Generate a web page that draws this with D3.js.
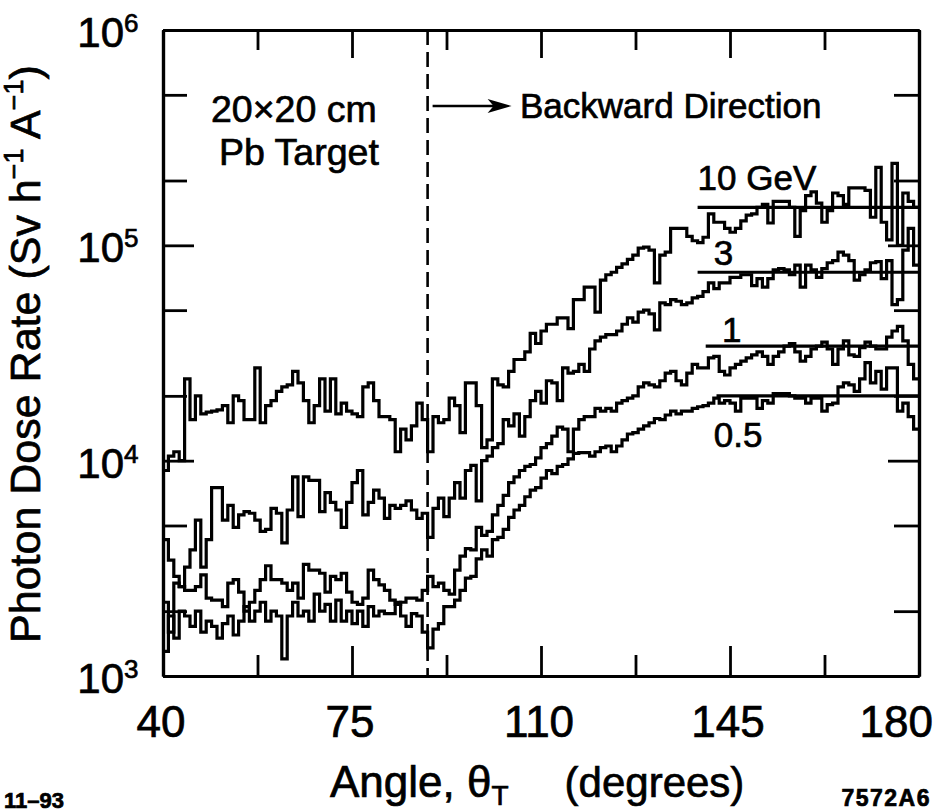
<!DOCTYPE html>
<html>
<head>
<meta charset="utf-8">
<script src="https://cdn.jsdelivr.net/npm/d3@7/dist/d3.min.js"></script>
<style>
  body { margin: 0; background: #fff; }
  svg text { font-family: "Liberation Sans", Arial, Helvetica, sans-serif; fill: #000; stroke: #000; stroke-width: 0.7px; }
</style>
</head>
<body>
<div id="chart"></div>
<script>
// bin start angles in degrees (1 degree bins, 40 -> 180)
const angles = d3.range(40, 180);

// photon dose rate per bin, Sv h^-1 A^-1
const dose10GeV = [
  9.0e3, 1.05e4, 1.1e4, 1.0e4, 2.4e4, 1.55e4, 2.0e4, 1.65e4, 1.68e4, 1.7e4,
  1.72e4, 1.8e4, 1.5e4, 2.0e4, 1.9e4, 1.55e4, 1.55e4, 2.7e4, 1.5e4, 1.8e4,
  1.9e4, 2.1e4, 2.2e4, 2.25e4, 2.6e4, 2.3e4, 1.9e4, 1.5e4, 1.8e4, 2.4e4,
  1.7e4, 2.4e4, 1.65e4, 1.85e4, 1.7e4, 1.65e4, 1.6e4, 2.2e4, 2.3e4, 1.9e4,
  1.6e4, 1.6e4, 1.55e4, 1.1e4, 1.4e4, 1.25e4, 1.45e4, 1.85e4, 1.55e4, 1.1e4,
  1.6e4, 1.5e4, 1.55e4, 1.95e4, 1.8e4, 1.35e4, 2.3e4, 2.3e4, 1.8e4, 1.15e4,
  1.25e4, 2.4e4, 2.25e4, 2.2e4, 2.6e4, 2.95e4, 2.95e4, 3.2e4, 3.9e4, 3.5e4,
  4.0e4, 4.3e4, 4.3e4, 4.6e4, 4.6e4, 4.1e4, 5.6e4, 5.6e4, 6.4e4, 6.4e4,
  4.9e4, 6.9e4, 7.3e4, 7.5e4, 7.9e4, 8.2e4, 8.6e4, 9.0e4, 9.7e4, 9.8e4,
  9.5e4, 6.7e4, 9.0e4, 9.3e4, 1.2e5, 1.2e5, 1.2e5, 1.1e5, 1.05e5, 1.03e5,
  1.09e5, 1.4e5, 1.28e5, 1.28e5, 1.2e5, 1.15e5, 1.2e5, 1.3e5, 1.38e5, 1.4e5,
  1.5e5, 1.55e5, 1.27e5, 1.6e5, 1.6e5, 1.6e5, 1.5e5, 1.1e5, 1.45e5, 1.7e5,
  1.77e5, 1.57e5, 1.28e5, 1.45e5, 1.75e5, 1.7e5, 1.55e5, 1.85e5, 1.85e5, 1.85e5,
  1.8e5, 1.35e5, 2.3e5, 1.28e5, 1.06e5, 2.4e5, 1.0e5, 1.75e5, 1.6e5, 1.5e5
];

const dose3GeV = [
  4.3e3, 3.45e3, 2.9e3, 2.6e3, 3.2e3, 3.85e3, 5.3e3, 3.2e3, 4.3e3, 7.5e3,
  7.5e3, 5.3e3, 6.2e3, 4.9e3, 5.6e3, 5.8e3, 5.7e3, 5.3e3, 4.7e3, 4.8e3,
  6.0e3, 5.7e3, 4.15e3, 5.9e3, 8.4e3, 5.5e3, 8.4e3, 8.1e3, 8.1e3, 5.8e3,
  7.1e3, 6.4e3, 5.9e3, 4.9e3, 6.4e3, 7.9e3, 9.0e3, 5.6e3, 6.4e3, 7.3e3,
  6.7e3, 5.4e3, 6.2e3, 6.0e3, 6.2e3, 6.5e3, 5.9e3, 5.4e3, 5.7e3, 4.4e3,
  6.0e3, 6.7e3, 5.5e3, 6.7e3, 7.9e3, 6.7e3, 9.0e3, 9.5e3, 6.5e3, 1.0e4,
  1.05e4, 1.15e4, 1.2e4, 1.55e4, 1.45e4, 1.65e4, 1.3e4, 1.6e4, 1.9e4, 2.1e4,
  1.85e4, 2.35e4, 2.3e4, 1.9e4, 2.7e4, 2.55e4, 2.6e4, 2.8e4, 2.6e4, 3.3e4,
  3.6e4, 3.75e4, 3.85e4, 3.85e4, 4.0e4, 4.3e4, 4.6e4, 4.4e4, 4.9e4, 5.0e4,
  4.8e4, 4.05e4, 5.4e4, 5.3e4, 5.6e4, 5.5e4, 5.3e4, 5.4e4, 5.7e4, 5.8e4,
  6.1e4, 6.7e4, 6.3e4, 6.7e4, 6.7e4, 7.1e4, 7.1e4, 7.3e4, 7.3e4, 6.5e4,
  7.0e4, 6.4e4, 7.0e4, 7.7e4, 7.8e4, 7.7e4, 7.3e4, 8.1e4, 6.4e4, 8.1e4,
  7.7e4, 7.1e4, 7.8e4, 8.3e4, 8.5e4, 9.3e4, 9.0e4, 8.5e4, 6.9e4, 7.3e4,
  7.7e4, 8.3e4, 8.4e4, 7.0e4, 8.5e4, 5.3e4, 5.6e4, 9.5e4, 1.2e5, 8.1e4
];

const dose1GeV = [
  2.2e3, 1.6e3, 2.7e3, 2.6e3, 2.5e3, 2.5e3, 2.6e3, 2.95e3, 2.3e3, 2.25e3,
  2.25e3, 2.1e3, 2.7e3, 2.8e3, 2.45e3, 2.0e3, 2.2e3, 2.5e3, 2.8e3, 3.25e3,
  2.8e3, 2.8e3, 2.7e3, 2.5e3, 2.7e3, 2.3e3, 3.3e3, 3.1e3, 3.1e3, 3.0e3,
  2.45e3, 2.9e3, 2.8e3, 3.0e3, 2.45e3, 2.2e3, 2.15e3, 2.3e3, 3.1e3, 2.8e3,
  2.65e3, 2.5e3, 2.25e3, 2.15e3, 2.2e3, 2.3e3, 2.3e3, 2.25e3, 2.5e3, 2.9e3,
  2.6e3, 2.7e3, 2.5e3, 2.4e3, 3.1e3, 3.6e3, 3.9e3, 3.85e3, 4.9e3, 4.5e3,
  4.7e3, 5.6e3, 6.2e3, 6.9e3, 7.9e3, 8.4e3, 9.0e3, 9.4e3, 9.6e3, 1.03e4,
  1.15e4, 1.2e4, 1.3e4, 1.43e4, 1.4e4, 1.1e4, 1.4e4, 1.55e4, 1.6e4, 1.6e4,
  1.75e4, 1.7e4, 1.75e4, 1.7e4, 1.85e4, 1.9e4, 1.95e4, 2.0e4, 2.2e4, 2.3e4,
  2.25e4, 2.2e4, 2.35e4, 2.55e4, 2.6e4, 2.35e4, 2.25e4, 2.55e4, 2.8e4, 2.7e4,
  2.7e4, 3.0e4, 3.05e4, 2.6e4, 2.5e4, 2.7e4, 2.8e4, 2.9e4, 3.0e4, 3.1e4,
  3.2e4, 3.05e4, 2.8e4, 3.05e4, 3.2e4, 3.4e4, 3.5e4, 3.2e4, 2.9e4, 3.05e4,
  3.3e4, 3.4e4, 3.55e4, 3.3e4, 2.8e4, 3.3e4, 3.6e4, 3.1e4, 3.05e4, 3.35e4,
  3.55e4, 3.4e4, 3.3e4, 3.3e4, 3.75e4, 4.0e4, 4.2e4, 3.6e4, 2.8e4, 2.4e4
];

const dose05GeV = [
  1.3e3, 1.9e3, 1.5e3, 2.0e3, 1.9e3, 1.7e3, 2.0e3, 1.6e3, 1.8e3, 1.7e3,
  1.5e3, 1.75e3, 1.9e3, 1.55e3, 1.8e3, 2.1e3, 1.8e3, 2.0e3, 2.2e3, 1.8e3,
  2.0e3, 1.9e3, 1.2e3, 1.9e3, 2.2e3, 1.9e3, 2.0e3, 1.8e3, 2.4e3, 2.0e3,
  2.15e3, 1.8e3, 2.25e3, 1.8e3, 2.0e3, 1.75e3, 2.0e3, 1.7e3, 2.1e3, 1.9e3,
  2.0e3, 1.95e3, 1.95e3, 2.2e3, 1.9e3, 1.7e3, 1.95e3, 1.9e3, 1.6e3, 1.35e3,
  1.65e3, 1.75e3, 2.1e3, 2.1e3, 2.25e3, 2.5e3, 2.85e3, 2.9e3, 3.5e3, 3.85e3,
  3.6e3, 4.3e3, 4.4e3, 4.8e3, 5.45e3, 5.9e3, 6.2e3, 6.8e3, 7.3e3, 7.5e3,
  8.3e3, 9.0e3, 8.7e3, 9.4e3, 9.6e3, 1.02e4, 1.08e4, 1.09e4, 1.09e4, 1.05e4,
  1.1e4, 1.15e4, 1.17e4, 1.1e4, 1.17e4, 1.25e4, 1.33e4, 1.35e4, 1.4e4, 1.45e4,
  1.5e4, 1.57e4, 1.55e4, 1.63e4, 1.7e4, 1.65e4, 1.7e4, 1.7e4, 1.75e4, 1.78e4,
  1.8e4, 1.85e4, 1.95e4, 1.85e4, 1.9e4, 1.85e4, 1.7e4, 1.95e4, 1.95e4, 1.95e4,
  1.75e4, 1.9e4, 1.85e4, 2.05e4, 2.05e4, 2.05e4, 2.0e4, 1.95e4, 1.95e4, 1.85e4,
  1.95e4, 1.95e4, 1.7e4, 1.82e4, 1.85e4, 2.2e4, 2.3e4, 2.25e4, 2.1e4, 2.4e4,
  2.85e4, 2.3e4, 2.6e4, 2.15e4, 2.7e4, 2.7e4, 1.7e4, 1.85e4, 1.6e4, 1.4e4
];

// flat reference levels drawn over the backward plateau
const seriesNames = ["10 GeV", "3", "1", "0.5"];
const plateauLevel = [1.5e5, 7.5e4, 3.4e4, 2.0e4];
const plateauFrom = [139, 139, 140.5, 142.5];

// axes
const xTicks = [40, 75, 110, 145, 180];
const xMinorTicks = [57.5, 92.5, 127.5, 162.5];
const yTicks = [1e3, 1e4, 1e5, 1e6];
const yTickExp = ["3", "4", "5", "6"];
const yMinorTicks = [2e3, 5e3, 2e4, 5e4, 2e5, 5e5];
const dashAngle = 89;

const width = 945, height = 812;
const svg = d3.select("#chart")
  .append("svg")
  .attr("width", width)
  .attr("height", height);

const x = d3.scaleLinear().domain([40, 180]).range([163, 919]);
const y = d3.scaleLog().domain([1e3, 1e6]).range([676, 30]);

// ticks on all four sides, pointing inwards
function drawAxes() {
  const g = svg.append("g");
  const sides = [
    { axis: d3.axisBottom, scale: x, major: xTicks, minor: xMinorTicks, t: `translate(0,${y(1e3)})`, len: [30, 21] },
    { axis: d3.axisTop, scale: x, major: xTicks, minor: xMinorTicks, t: `translate(0,${y(1e6)})`, len: [28, 20] },
    { axis: d3.axisLeft, scale: y, major: yTicks, minor: yMinorTicks, t: `translate(${x(40)},0)`, len: [31, 24] },
    { axis: d3.axisRight, scale: y, major: yTicks, minor: yMinorTicks, t: `translate(${x(180)},0)`, len: [31, 25] }
  ];
  sides.forEach(s => {
    g.append("g").attr("transform", s.t)
      .call(s.axis(s.scale).tickValues(s.major).tickSize(-s.len[0]).tickSizeOuter(0).tickFormat(""));
    g.append("g").attr("transform", s.t)
      .call(s.axis(s.scale).tickValues(s.minor).tickSize(-s.len[1]).tickSizeOuter(0).tickFormat(""));
  });
  g.selectAll(".domain").attr("stroke", "#000").attr("stroke-width", 3.2);
  g.selectAll(".tick line").attr("stroke", "#000").attr("stroke-width", 2.8);

  // x tick labels
  svg.selectAll(".xlab")
    .data(xTicks)
    .enter()
    .append("text")
    .attr("x", (d, i) => i === xTicks.length - 1 ? 933 : x(d) - 2)
    .attr("y", 737)
    .attr("text-anchor", (d, i) => i === xTicks.length - 1 ? "end" : "middle")
    .attr("font-size", 44)
    .text(d => d);

  // y tick labels, 10 with a raised exponent
  yTicks.forEach((d, i) => {
    svg.append("text")
      .attr("x", 124).attr("y", y(d) + 17)
      .attr("text-anchor", "end")
      .attr("font-size", 42)
      .text("10");
    svg.append("text")
      .attr("x", 124).attr("y", y(d) + 2)
      .attr("font-size", 26)
      .text(yTickExp[i]);
  });

  // axis titles
  const xt = svg.append("text")
    .attr("x", 330).attr("y", 797)
    .attr("font-size", 44);
  xt.append("tspan").text("Angle, \u03b8");
  xt.append("tspan").attr("font-size", 28).attr("dy", 8).text("T");
  xt.append("tspan").attr("dy", -8).attr("dx", 56).attr("font-size", 42).text("(degrees)");

  const yt = svg.append("text")
    .attr("transform", "translate(40,354) rotate(-90)")
    .attr("text-anchor", "middle")
    .attr("font-size", 43);
  yt.append("tspan").text("Photon Dose Rate (Sv h");
  yt.append("tspan").attr("font-size", 27).attr("dy", -17).text("\u22121");
  yt.append("tspan").attr("dy", 17).text(" A");
  yt.append("tspan").attr("font-size", 27).attr("dy", -17).text("\u22121");
  yt.append("tspan").attr("dy", 17).text(")");
}

// step histograms, one per beam energy
function drawHistograms() {
  const line = d3.line()
    .x(d => x(d[0]))
    .y(d => y(d[1]))
    .curve(d3.curveStepAfter);

  [dose10GeV, dose3GeV, dose1GeV, dose05GeV].forEach(vals => {
    const pts = angles.map((a, i) => [a, vals[i]]);
    pts.push([180, vals[vals.length - 1]]);
    svg.append("path")
      .datum(pts)
      .attr("d", line)
      .attr("fill", "none")
      .attr("stroke", "#000")
      .attr("stroke-width", 3.2)
      .attr("stroke-linejoin", "miter");
  });

  // plateau levels
  svg.selectAll(".plateau")
    .data(plateauLevel)
    .enter()
    .append("line")
    .attr("x1", (d, i) => x(plateauFrom[i]))
    .attr("x2", x(180))
    .attr("y1", d => y(d))
    .attr("y2", d => y(d))
    .attr("stroke", "#000")
    .attr("stroke-width", 3.2);

  // energy labels next to the plateau lines
  const labelPos = [[139, 1.8e5], [142, 8.1e4], [143.5, 3.55e4], [142, 1.16e4]];
  svg.selectAll(".elab")
    .data(seriesNames)
    .enter()
    .append("text")
    .attr("x", (d, i) => x(labelPos[i][0]))
    .attr("y", (d, i) => y(labelPos[i][1]))
    .attr("font-size", 35)
    .text(d => d);
}

// 90 degree marker and annotations
function drawNotes() {
  const xd = x(dashAngle);
  svg.append("line")
    .attr("x1", xd).attr("x2", xd)
    .attr("y1", y(1e6)).attr("y2", y(1e3))
    .attr("stroke", "#000")
    .attr("stroke-width", 2.6)
    .attr("stroke-dasharray", "15 7");

  svg.append("line")
    .attr("x1", xd + 5).attr("x2", xd + 72)
    .attr("y1", 106).attr("y2", 106)
    .attr("stroke", "#000").attr("stroke-width", 2.5);
  svg.append("path")
    .attr("d", `M${xd + 84},106 L${xd + 60},99 L${xd + 66},106 L${xd + 60},113 Z`)
    .attr("fill", "#000");

  svg.append("text").attr("x", 520).attr("y", 118).attr("font-size", 35).text("Backward Direction");
  svg.append("text").attr("x", 211).attr("y", 122).attr("font-size", 37.5).text("20\u00d720 cm");
  svg.append("text").attr("x", 219).attr("y", 165).attr("font-size", 37.5).text("Pb Target");

  svg.append("text").attr("x", 4).attr("y", 808)
    .attr("font-size", 22).attr("font-weight", "bold").text("11\u201393");
  svg.append("text").attr("x", 931).attr("y", 806).attr("text-anchor", "end")
    .attr("font-size", 23).attr("font-weight", "bold").attr("letter-spacing", 1.5).text("7572A6");
}

drawHistograms();
drawNotes();
drawAxes();
</script>
</body>
</html>
